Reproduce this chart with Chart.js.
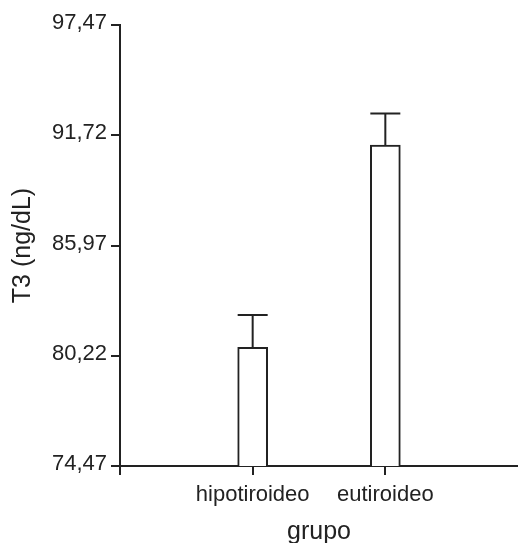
<!DOCTYPE html>
<html lang="es">
<head>
    <meta charset="UTF-8">
    <title>T3 por grupo</title>
    <script src="https://cdn.jsdelivr.net/npm/chart.js"></script>
    <style>
        body {
            margin: 0;
            background-color: #fff;
        }
        .chart-box {
            width: 518px;
            height: 543px;
        }
    </style>
</head>
<body>
    <div class="chart-box">
        <canvas id="t3Chart"></canvas>
    </div>
    <script>
        // values
        const groups = ['hipotiroideo', 'eutiroideo'];
        const groupPos = [1, 2];
        const means = [80.66, 91.21];
        const errors = [1.69, 1.65];
        const yTicks = [74.47, 80.22, 85.97, 91.72, 97.47];
        const xTicks = [0, 1, 2, 3];

        const ink = '#222';

        const errorBars = {
            id: 'errorBars',
            afterDatasetsDraw(chart) {
                const ctx = chart.ctx;
                const y = chart.scales.y;
                const meta = chart.getDatasetMeta(0);
                ctx.save();
                ctx.strokeStyle = ink;
                ctx.lineWidth = 2;
                meta.data.forEach((bar, i) => {
                    const top = y.getPixelForValue(means[i] + errors[i]);
                    const half = bar.width / 2;
                    ctx.beginPath();
                    ctx.moveTo(bar.x, bar.y);
                    ctx.lineTo(bar.x, top);
                    ctx.moveTo(bar.x - half, top);
                    ctx.lineTo(bar.x + half, top);
                    ctx.stroke();
                });
                ctx.restore();
            }
        };

        new Chart(document.getElementById('t3Chart'), {
            type: 'bar',
            data: {
                datasets: [{
                    data: groupPos.map((p, i) => ({ x: p, y: means[i] })),
                    backgroundColor: '#fff',
                    borderColor: ink,
                    borderWidth: 2,
                    barThickness: 30,
                }],
            },
            plugins: [errorBars],
            options: {
                responsive: true,
                maintainAspectRatio: false,
                animation: false,
                layout: { padding: { top: 25, right: 0, left: 0, bottom: 0 } },
                plugins: {
                    legend: { display: false },
                    tooltip: { enabled: false },
                },
                scales: {
                    x: {
                        type: 'linear',
                        min: 0,
                        max: 3,
                        offset: false,
                        afterBuildTicks: (s) => { s.ticks = xTicks.map(v => ({ value: v })); },
                        afterFit: (s) => { s.height = 77; s.paddingRight = 0; s.paddingLeft = 0; },
                        border: { color: ink, width: 2 },
                        grid: {
                            offset: false,
                            drawOnChartArea: false,
                            tickLength: 9,
                            lineWidth: 2,
                            color: (c) => (c.tick && c.tick.value === 3 ? 'rgba(0,0,0,0)' : ink),
                        },
                        ticks: {
                            color: ink,
                            padding: 7,
                            maxRotation: 0,
                            font: { family: 'Liberation Sans, Arial, sans-serif', size: 22 },
                            callback: (v) => groups[groupPos.indexOf(v)] || '',
                        },
                        title: {
                            display: true,
                            text: 'grupo',
                            color: ink,
                            padding: { top: 0, bottom: -4 },
                            font: { family: 'Liberation Sans, Arial, sans-serif', size: 25 },
                        },
                    },
                    y: {
                        min: yTicks[0],
                        max: yTicks[yTicks.length - 1],
                        afterBuildTicks: (s) => { s.ticks = yTicks.map(v => ({ value: v })); },
                        afterFit: (s) => { s.width = 120; },
                        border: { color: ink, width: 2 },
                        grid: {
                            drawOnChartArea: false,
                            tickLength: 9,
                            lineWidth: 2,
                            color: ink,
                        },
                        ticks: {
                            color: ink,
                            padding: 4,
                            labelOffset: -2,
                            font: { family: 'Liberation Sans, Arial, sans-serif', size: 22 },
                            callback: (v) => v.toFixed(2).replace('.', ','),
                        },
                        title: {
                            display: true,
                            text: 'T3 (ng/dL)',
                            color: ink,
                            padding: { top: 8, bottom: 0 },
                            font: { family: 'Liberation Sans, Arial, sans-serif', size: 25 },
                        },
                    },
                },
            },
        });
    </script>
</body>
</html>
